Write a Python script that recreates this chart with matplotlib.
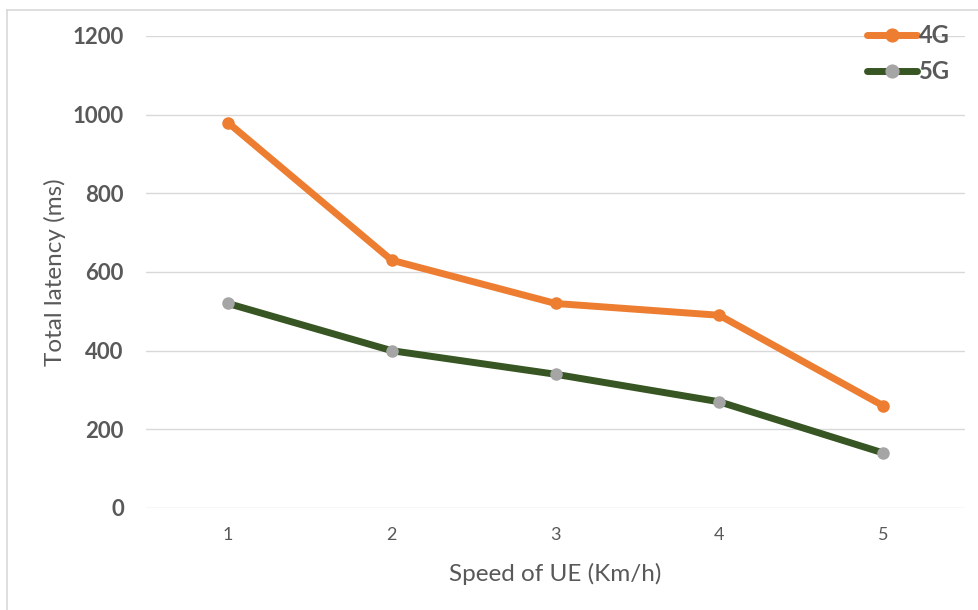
import matplotlib
matplotlib.use("Agg")
import matplotlib.pyplot as plt
from matplotlib.lines import Line2D

# Data
speeds = [1, 2, 3, 4, 5]
latency_4g = [980, 630, 520, 490, 260]
latency_5g = [520, 400, 340, 270, 140]
y_ticks = [0, 200, 400, 600, 800, 1000, 1200]

plt.rcParams['font.family'] = ['Lato', 'DejaVu Sans']

W, H = 979, 610
fig = plt.figure(figsize=(W / 100, H / 100), dpi=100)
fig.patch.set_facecolor('white')

# Chart frame (left and top edges)
fig.add_artist(Line2D([7 / W, 7 / W], [0, 1 - 10 / H], transform=fig.transFigure,
                      color='#d9d9d9', lw=1.2))
fig.add_artist(Line2D([7 / W, 1], [1 - 10 / H, 1 - 10 / H], transform=fig.transFigure,
                      color='#d9d9d9', lw=1.2))

left, right = 146 / W, 965 / W
bottom, top = 1 - 508 / H, 1 - 36 / H
ax = fig.add_axes([left, bottom, right - left, top - bottom])

orange = '#ed7d31'
green = '#375623'
grey_marker = '#a5a5a5'

ax.plot(speeds, latency_4g, color=orange, lw=5, marker='o', markersize=8,
        markerfacecolor=orange, markeredgecolor=orange, label='4G',
        solid_capstyle='round', zorder=3)
ax.plot(speeds, latency_5g, color=green, lw=5, marker='o', markersize=8,
        markerfacecolor=grey_marker, markeredgecolor=grey_marker, label='5G',
        solid_capstyle='round', zorder=3)

ax.set_xlim(0.5, 5.5)
ax.set_ylim(0, 1200)
ax.set_yticks(y_ticks)
ax.set_xticks(speeds)
ax.grid(axis='y', color='#d9d9d9', lw=1)
ax.set_axisbelow(True)
for s in ax.spines.values():
    s.set_visible(False)
ax.tick_params(length=0)
ax.tick_params(axis='y', pad=16, labelsize=16, labelcolor='#595959')
ax.tick_params(axis='x', pad=14, labelsize=13, labelcolor='#595959')
for lbl in ax.get_yticklabels():
    lbl.set_fontweight('bold')

ax.set_xlabel('Speed of UE (Km/h)', fontsize=17.5, color='#595959', labelpad=14)
ax.set_ylabel('Total latency (ms)', fontsize=17.5, color='#595959', labelpad=5)

leg = ax.legend(loc='upper right', bbox_to_anchor=(1.008, 1.07), frameon=False,
                handlelength=2.1, handletextpad=0.1, labelspacing=0.55,
                markerscale=1.15, prop={'size': 17, 'weight': 'bold'})
for t in leg.get_texts():
    t.set_color('#595959')

fig.savefig('out.png', dpi=100, facecolor='white')
